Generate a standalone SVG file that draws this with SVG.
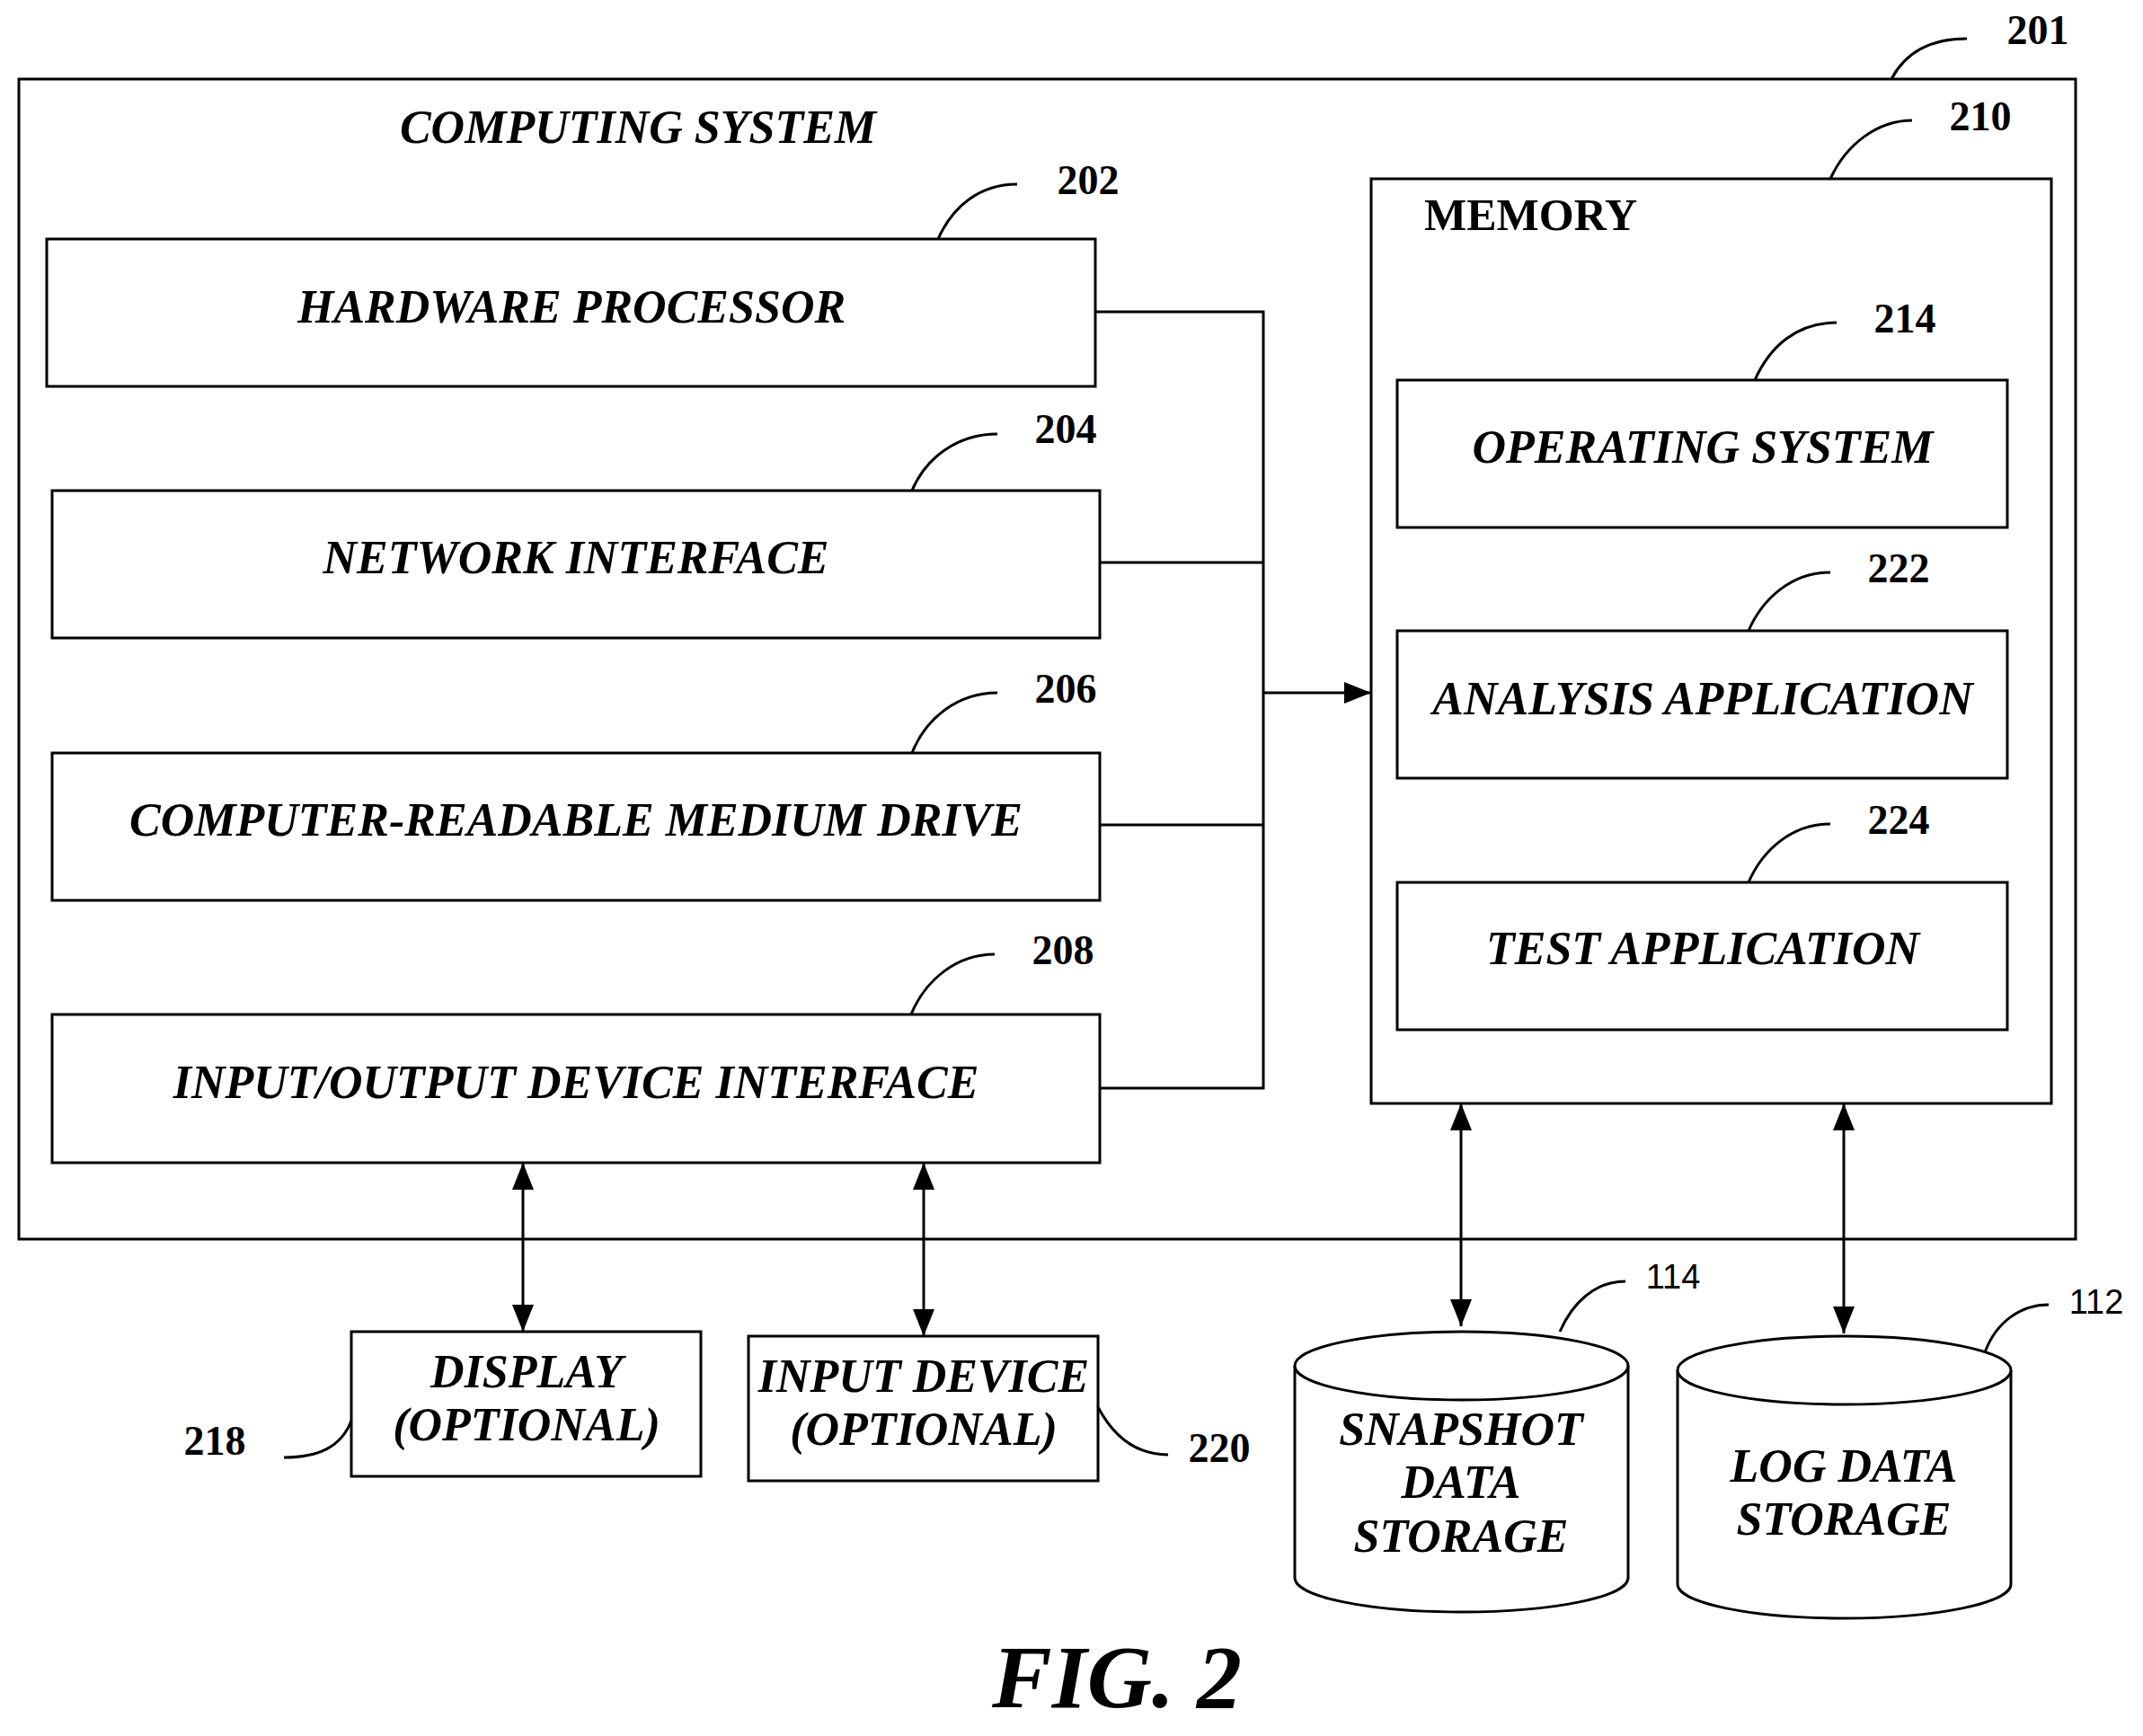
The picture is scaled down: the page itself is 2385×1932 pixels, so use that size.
<svg xmlns="http://www.w3.org/2000/svg" width="2385" height="1932" viewBox="0 0 2385 1932">
<style>
.b{fill:#fff;stroke:#000;stroke-width:3}
.t{font-family:"Liberation Serif",serif;font-style:italic;font-weight:bold;font-size:52px;text-anchor:middle;dominant-baseline:middle}
.n{font-family:"Liberation Serif",serif;font-weight:bold;font-size:46px;text-anchor:middle;dominant-baseline:middle}
.s{font-family:"Liberation Sans",sans-serif;font-size:38px;text-anchor:middle;dominant-baseline:middle}
.l{fill:none;stroke:#000;stroke-width:3}
</style>
<defs>
<marker id="a" viewBox="0 0 10 10" refX="10" refY="5" markerWidth="30" markerHeight="24" markerUnits="userSpaceOnUse" orient="auto-start-reverse" preserveAspectRatio="none"><path d="M0,0L10,5L0,10z"/></marker>
</defs>
<rect width="2385" height="1932" fill="#fff"/>
<g id="system"><rect class="b" x="21" y="88" width="2289" height="1291"/><text class="t" x="710" y="147">COMPUTING SYSTEM</text></g>
<g id="n202"><rect class="b" x="52" y="266" width="1167" height="164"/><text class="t" x="636" y="347">HARDWARE PROCESSOR</text></g>
<g id="n204"><rect class="b" x="58" y="546" width="1166" height="164"/><text class="t" x="641" y="626">NETWORK INTERFACE</text></g>
<g id="n206"><rect class="b" x="58" y="838" width="1166" height="164"/><text class="t" x="641" y="918">COMPUTER-READABLE MEDIUM DRIVE</text></g>
<g id="n208"><rect class="b" x="58" y="1129" width="1166" height="165"/><text class="t" x="641" y="1210">INPUT/OUTPUT DEVICE INTERFACE</text></g>
<g id="memory"><rect class="b" x="1526" y="199" width="757" height="1029"/><text class="n" x="1585" y="245" style="text-anchor:start;font-size:50px">MEMORY</text></g>
<g id="n214"><rect class="b" x="1555" y="423" width="679" height="164"/><text class="t" x="1895" y="503">OPERATING SYSTEM</text></g>
<g id="n222"><rect class="b" x="1555" y="702" width="679" height="164"/><text class="t" x="1895" y="783">ANALYSIS APPLICATION</text></g>
<g id="n224"><rect class="b" x="1555" y="982" width="679" height="164"/><text class="t" x="1895" y="1061">TEST APPLICATION</text></g>
<g id="n218"><rect class="b" x="391" y="1482" width="389" height="161"/><text class="t" x="586" y="1532">DISPLAY</text><text class="t" x="586" y="1591">(OPTIONAL)</text></g>
<g id="n220"><rect class="b" x="833" y="1487" width="389" height="161"/><text class="t" x="1028" y="1537">INPUT DEVICE</text><text class="t" x="1028" y="1596">(OPTIONAL)</text></g>
<g id="n114"><path class="b" d="M1441,1520V1756A185.5,38 0 0 0 1812,1756V1520"/><ellipse class="b" cx="1626.5" cy="1520" rx="185.5" ry="38"/><text class="t" x="1626" y="1596">SNAPSHOT</text><text class="t" x="1626" y="1655">DATA</text><text class="t" x="1626" y="1715">STORAGE</text></g>
<g id="n112"><path class="b" d="M1867,1525V1763A185.5,38 0 0 0 2238,1763V1525"/><ellipse class="b" cx="2052.5" cy="1525" rx="185.5" ry="38"/><text class="t" x="2052" y="1637">LOG DATA</text><text class="t" x="2052" y="1696">STORAGE</text></g>
<g id="connectors">
<path class="l" d="M1219,347H1406V1211H1224M1224,626H1406M1224,918H1406"/>
<path class="l" d="M1406,771H1526" marker-end="url(#a)"/>
<path class="l" d="M582,1294V1482" marker-start="url(#a)" marker-end="url(#a)"/>
<path class="l" d="M1028,1294V1487" marker-start="url(#a)" marker-end="url(#a)"/>
<path class="l" d="M1626,1228V1476" marker-start="url(#a)" marker-end="url(#a)"/>
<path class="l" d="M2052,1228V1484" marker-start="url(#a)" marker-end="url(#a)"/>
</g>
<g id="labels">
<path class="l" d="M2105,88C2125,50 2160,43 2189,43M2037,199C2055,160 2090,134 2128,134M1044,266C1060,230 1090,205 1132,205M1015,546C1030,510 1065,483 1110,483M1015,838C1030,800 1065,771 1110,771M1014,1129C1030,1090 1065,1062 1107,1062M1953,423C1970,385 2000,359 2044,359M1946,702C1962,665 1995,637 2037,637M1946,982C1962,945 1995,917 2037,917M391,1581C380,1610 355,1622 316,1622M1222,1566C1240,1600 1265,1619 1300,1619M1736,1482C1750,1450 1775,1426 1809,1426M2209,1505C2222,1470 2250,1452 2280,1452"/>
<text class="n" x="2268" y="38">201</text><text class="n" x="2204" y="134">210</text>
<text class="n" x="1211" y="205">202</text><text class="n" x="1186" y="482">204</text>
<text class="n" x="1186" y="771">206</text><text class="n" x="1183" y="1062">208</text>
<text class="n" x="2120" y="359">214</text><text class="n" x="2113" y="637">222</text><text class="n" x="2113" y="917">224</text>
<text class="n" x="239" y="1608">218</text><text class="n" x="1357" y="1616">220</text>
<text class="s" x="1862" y="1424">114</text><text class="s" x="2333" y="1452">112</text>
<text class="t" x="1243" y="1877" style="font-size:100px">FIG. 2</text>
</g>
</svg>
